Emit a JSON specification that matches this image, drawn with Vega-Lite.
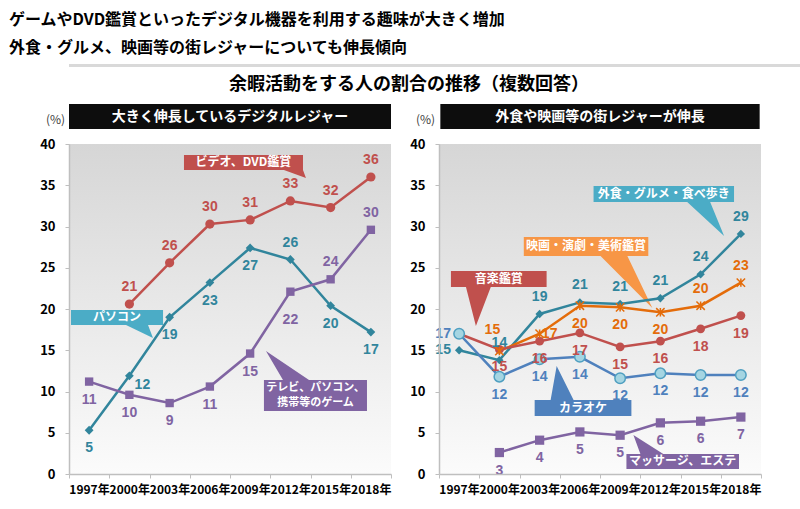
{
  "$schema": "https://vega.github.io/schema/vega-lite/v6.json",
  "background": "white",
  "padding": {"left": 0, "top": 12, "right": 0, "bottom": 5},
  "config": {
    "view": {"stroke": null},
    "font": "Noto Sans CJK JP",
    "axis": {"labelFont": "Noto Sans CJK JP", "titleFont": "Noto Sans CJK JP"}
  },
  "datasets": {
    "dL": [
      {"s": "ビデオ、DVD鑑賞", "yr": 2000, "v": 20.6, "pos": "a"},
      {"s": "ビデオ、DVD鑑賞", "yr": 2003, "v": 25.6, "pos": "a"},
      {"s": "ビデオ、DVD鑑賞", "yr": 2006, "v": 30.3, "pos": "a"},
      {"s": "ビデオ、DVD鑑賞", "yr": 2009, "v": 30.8, "pos": "a"},
      {"s": "ビデオ、DVD鑑賞", "yr": 2012, "v": 33.1, "pos": "a"},
      {"s": "ビデオ、DVD鑑賞", "yr": 2015, "v": 32.3, "pos": "a"},
      {"s": "ビデオ、DVD鑑賞", "yr": 2018, "v": 36.0, "pos": "a"},
      {"s": "パソコン", "yr": 1997, "v": 5.3, "pos": "b"},
      {"s": "パソコン", "yr": 2000, "v": 11.9, "pos": "br"},
      {"s": "パソコン", "yr": 2003, "v": 19.0, "pos": "b"},
      {"s": "パソコン", "yr": 2006, "v": 23.2, "pos": "b"},
      {"s": "パソコン", "yr": 2009, "v": 27.4, "pos": "b"},
      {"s": "パソコン", "yr": 2012, "v": 26.0, "pos": "a"},
      {"s": "パソコン", "yr": 2015, "v": 20.4, "pos": "b"},
      {"s": "パソコン", "yr": 2018, "v": 17.2, "pos": "b"},
      {"s": "テレビ、パソコン、携帯等のゲーム", "yr": 1997, "v": 11.2, "pos": "b"},
      {"s": "テレビ、パソコン、携帯等のゲーム", "yr": 2000, "v": 9.6, "pos": "b"},
      {"s": "テレビ、パソコン、携帯等のゲーム", "yr": 2003, "v": 8.6, "pos": "b"},
      {"s": "テレビ、パソコン、携帯等のゲーム", "yr": 2006, "v": 10.6, "pos": "b"},
      {"s": "テレビ、パソコン、携帯等のゲーム", "yr": 2009, "v": 14.6, "pos": "b"},
      {"s": "テレビ、パソコン、携帯等のゲーム", "yr": 2012, "v": 22.1, "pos": "b2"},
      {"s": "テレビ、パソコン、携帯等のゲーム", "yr": 2015, "v": 23.6, "pos": "a"},
      {"s": "テレビ、パソコン、携帯等のゲーム", "yr": 2018, "v": 29.6, "pos": "a"}
    ],
    "dR": [
      {"s": "外食・グルメ・食べ歩き", "yr": 1997, "v": 15.0, "pos": "l"},
      {"s": "外食・グルメ・食べ歩き", "yr": 2000, "v": 13.8, "pos": "a"},
      {"s": "外食・グルメ・食べ歩き", "yr": 2003, "v": 19.4, "pos": "a"},
      {"s": "外食・グルメ・食べ歩き", "yr": 2006, "v": 20.8, "pos": "a"},
      {"s": "外食・グルメ・食べ歩き", "yr": 2009, "v": 20.6, "pos": "a"},
      {"s": "外食・グルメ・食べ歩き", "yr": 2012, "v": 21.3, "pos": "a"},
      {"s": "外食・グルメ・食べ歩き", "yr": 2015, "v": 24.2, "pos": "a"},
      {"s": "外食・グルメ・食べ歩き", "yr": 2018, "v": 29.1, "pos": "a"},
      {"s": "映画・演劇・美術鑑賞", "yr": 2000, "v": 14.9, "pos": "al"},
      {"s": "映画・演劇・美術鑑賞", "yr": 2003, "v": 17.0, "pos": "r"},
      {"s": "映画・演劇・美術鑑賞", "yr": 2006, "v": 20.4, "pos": "b"},
      {"s": "映画・演劇・美術鑑賞", "yr": 2009, "v": 20.2, "pos": "b"},
      {"s": "映画・演劇・美術鑑賞", "yr": 2012, "v": 19.6, "pos": "b"},
      {"s": "映画・演劇・美術鑑賞", "yr": 2015, "v": 20.4, "pos": "a"},
      {"s": "映画・演劇・美術鑑賞", "yr": 2018, "v": 23.2, "pos": "a"},
      {"s": "音楽鑑賞", "yr": 1997, "v": 17.0, "pos": "n"},
      {"s": "音楽鑑賞", "yr": 2000, "v": 15.1, "pos": "b"},
      {"s": "音楽鑑賞", "yr": 2003, "v": 16.1, "pos": "b"},
      {"s": "音楽鑑賞", "yr": 2006, "v": 17.1, "pos": "b"},
      {"s": "音楽鑑賞", "yr": 2009, "v": 15.4, "pos": "b"},
      {"s": "音楽鑑賞", "yr": 2012, "v": 16.1, "pos": "b"},
      {"s": "音楽鑑賞", "yr": 2015, "v": 17.6, "pos": "b"},
      {"s": "音楽鑑賞", "yr": 2018, "v": 19.2, "pos": "b"},
      {"s": "カラオケ", "yr": 1997, "v": 17.0, "pos": "l"},
      {"s": "カラオケ", "yr": 2000, "v": 11.8, "pos": "b"},
      {"s": "カラオケ", "yr": 2003, "v": 13.9, "pos": "b"},
      {"s": "カラオケ", "yr": 2006, "v": 14.2, "pos": "b"},
      {"s": "カラオケ", "yr": 2009, "v": 11.6, "pos": "b"},
      {"s": "カラオケ", "yr": 2012, "v": 12.2, "pos": "b"},
      {"s": "カラオケ", "yr": 2015, "v": 12.0, "pos": "b"},
      {"s": "カラオケ", "yr": 2018, "v": 12.0, "pos": "b"},
      {"s": "マッサージ、エステ", "yr": 2000, "v": 2.6, "pos": "b"},
      {"s": "マッサージ、エステ", "yr": 2003, "v": 4.1, "pos": "b"},
      {"s": "マッサージ、エステ", "yr": 2006, "v": 5.1, "pos": "b"},
      {"s": "マッサージ、エステ", "yr": 2009, "v": 4.7, "pos": "b"},
      {"s": "マッサージ、エステ", "yr": 2012, "v": 6.2, "pos": "b"},
      {"s": "マッサージ、エステ", "yr": 2015, "v": 6.4, "pos": "b"},
      {"s": "マッサージ、エステ", "yr": 2018, "v": 6.9, "pos": "b"}
    ],
    "cL": [
      {"id": "V", "i": 1, "cx": 2004.07, "cy": 38.67},
      {"id": "V", "i": 2, "cx": 2012.94, "cy": 38.67},
      {"id": "V", "i": 3, "cx": 2012.94, "cy": 36.85},
      {"id": "V", "i": 4, "cx": 2013.16, "cy": 35.88},
      {"id": "V", "i": 5, "cx": 2011.52, "cy": 36.85},
      {"id": "V", "i": 6, "cx": 2004.07, "cy": 36.85},
      {"id": "P", "i": 1, "cx": 1995.65, "cy": 19.88},
      {"id": "P", "i": 2, "cx": 2002.51, "cy": 19.88},
      {"id": "P", "i": 3, "cx": 2002.51, "cy": 18.06},
      {"id": "P", "i": 4, "cx": 2001.39, "cy": 18.06},
      {"id": "P", "i": 5, "cx": 2001.76, "cy": 16.48},
      {"id": "P", "i": 6, "cx": 1999.75, "cy": 18.06},
      {"id": "P", "i": 7, "cx": 1995.65, "cy": 18.06},
      {"id": "G", "i": 1, "cx": 2010.03, "cy": 11.39},
      {"id": "G", "i": 2, "cx": 2011.45, "cy": 11.39},
      {"id": "G", "i": 3, "cx": 2010.18, "cy": 14.91},
      {"id": "G", "i": 4, "cx": 2013.39, "cy": 11.39},
      {"id": "G", "i": 5, "cx": 2017.71, "cy": 11.39},
      {"id": "G", "i": 6, "cx": 2017.71, "cy": 7.64},
      {"id": "G", "i": 7, "cx": 2010.03, "cy": 7.64}
    ],
    "cR": [
      {"id": "F", "i": 1, "cx": 2007.02, "cy": 34.91},
      {"id": "F", "i": 2, "cx": 2017.49, "cy": 34.91},
      {"id": "F", "i": 3, "cx": 2017.49, "cy": 32.97},
      {"id": "F", "i": 4, "cx": 2015.71, "cy": 32.97},
      {"id": "F", "i": 5, "cx": 2016.75, "cy": 28.85},
      {"id": "F", "i": 6, "cx": 2014.0, "cy": 32.97},
      {"id": "F", "i": 7, "cx": 2007.02, "cy": 32.97},
      {"id": "E", "i": 1, "cx": 2001.82, "cy": 28.73},
      {"id": "E", "i": 2, "cx": 2011.1, "cy": 28.73},
      {"id": "E", "i": 3, "cx": 2011.1, "cy": 26.42},
      {"id": "E", "i": 4, "cx": 2009.54, "cy": 26.42},
      {"id": "E", "i": 5, "cx": 2011.4, "cy": 20.12},
      {"id": "E", "i": 6, "cx": 2007.54, "cy": 26.42},
      {"id": "E", "i": 7, "cx": 2001.82, "cy": 26.42},
      {"id": "M", "i": 1, "cx": 1996.39, "cy": 24.61},
      {"id": "M", "i": 2, "cx": 2003.52, "cy": 24.61},
      {"id": "M", "i": 3, "cx": 2003.52, "cy": 22.67},
      {"id": "M", "i": 4, "cx": 1999.36, "cy": 22.67},
      {"id": "M", "i": 5, "cx": 1998.25, "cy": 17.94},
      {"id": "M", "i": 6, "cx": 1997.51, "cy": 22.67},
      {"id": "M", "i": 7, "cx": 1996.39, "cy": 22.67},
      {"id": "K", "i": 1, "cx": 2002.63, "cy": 8.97},
      {"id": "K", "i": 2, "cx": 2003.82, "cy": 8.97},
      {"id": "K", "i": 3, "cx": 2004.27, "cy": 13.09},
      {"id": "K", "i": 4, "cx": 2005.53, "cy": 8.97},
      {"id": "K", "i": 5, "cx": 2009.84, "cy": 8.97},
      {"id": "K", "i": 6, "cx": 2009.84, "cy": 7.03},
      {"id": "K", "i": 7, "cx": 2002.63, "cy": 7.03},
      {"id": "S", "i": 1, "cx": 2009.47, "cy": 2.42},
      {"id": "S", "i": 2, "cx": 2010.51, "cy": 2.42},
      {"id": "S", "i": 3, "cx": 2009.99, "cy": 4.73},
      {"id": "S", "i": 4, "cx": 2012.22, "cy": 2.42},
      {"id": "S", "i": 5, "cx": 2017.86, "cy": 2.42},
      {"id": "S", "i": 6, "cx": 2017.86, "cy": 0.61},
      {"id": "S", "i": 7, "cx": 2009.47, "cy": 0.61}
    ],
    "tL": [
      {"cx": 2008.5, "cy": 37.76, "txt": "ビデオ、DVD鑑賞", "fs": "m"},
      {"cx": 1999.08, "cy": 18.97, "txt": "パソコン", "fs": "m"},
      {"cx": 2013.87, "cy": 10.43, "txt": "テレビ、パソコン、\n携帯等のゲーム", "fs": "s"}
    ],
    "tR": [
      {"cx": 2012.25, "cy": 33.94, "txt": "外食・グルメ・食べ歩き", "fs": "m"},
      {"cx": 2006.46, "cy": 27.58, "txt": "映画・演劇・美術鑑賞", "fs": "m"},
      {"cx": 1999.95, "cy": 23.64, "txt": "音楽鑑賞", "fs": "m"},
      {"cx": 2006.23, "cy": 8.0, "txt": "カラオケ", "fs": "m"},
      {"cx": 2013.66, "cy": 1.52, "txt": "マッサージ、エステ", "fs": "m"}
    ]
  },
  "title": {
    "text": ["ゲームやDVD鑑賞といったデジタル機器を利用する趣味が大きく増加", "外食・グルメ、映画等の街レジャーについても伸長傾向"],
    "anchor": "start",
    "fontSize": 16,
    "fontWeight": "bold",
    "lineHeight": 28,
    "color": "#000000",
    "offset": 8,
    "dx": 8
  },
  "spacing": 8,
  "vconcat": [
    {
      "width": 800,
      "height": 3,
      "data": {"values": [{}]},
      "mark": {"type": "rect", "color": "#d9d9d9"},
      "encoding": {
        "x": {"datum": 0, "type": "quantitative", "scale": {"domain": [0, 1], "nice": false}, "axis": null},
        "x2": {"datum": 1},
        "y": {"datum": 0, "type": "quantitative", "scale": {"domain": [0, 1], "nice": false}, "axis": null},
        "y2": {"datum": 1}
      }
    },
    {
      "title": {"text": "余暇活動をする人の割合の推移（複数回答）", "anchor": "middle", "fontSize": 18, "fontWeight": "bold", "color": "#000000", "offset": 10, "dx": 18},
      "bounds": "flush",
      "spacing": 48,
      "resolve": {"scale": {"color": "independent", "shape": "independent", "size": "independent", "x": "independent", "y": "independent"}},
      "hconcat": [
        {
          "width": 322,
          "height": 330,
          "layer": [
            {"data": {"values": [{}]}, "mark": {"type": "rule", "strokeOpacity": 0},
              "encoding": {"x": {"datum": 1990.43, "type": "quantitative"}}},
            {"data": {"values": [{}]}, "mark": {"type": "rect", "color": {"gradient": "linear", "x1": 0, "y1": 0, "x2": 0, "y2": 1, "stops": [{"offset": 0, "color": "#d6d6d6"}, {"offset": 1, "color": "#fbfbfb"}]}},
              "encoding": {"x": {"datum": 1995.5, "type": "quantitative"}, "x2": {"datum": 2019.5}, "y": {"datum": 0, "type": "quantitative"}, "y2": {"datum": 40}}},
            {"data": {"values": [{}]}, "mark": {"type": "rect", "color": "#0d0d0d"},
              "encoding": {"x": {"datum": 1995.5, "type": "quantitative"}, "x2": {"datum": 2019.5}, "y": {"datum": 41.82, "type": "quantitative"}, "y2": {"datum": 44.85}}},
            {"data": {"values": [{}]}, "mark": {"type": "text", "color": "#ffffff", "fontSize": 14, "fontWeight": "bold"},
              "encoding": {"x": {"datum": 2007.5, "type": "quantitative"}, "y": {"datum": 43.33, "type": "quantitative"}, "text": {"value": "大きく伸長しているデジタルレジャー"}}},
            {"data": {"name": "cL"}, "transform": [{"filter": "datum.id == 'V'"}], "mark": {"type": "line", "interpolate": "linear-closed", "fill": "#c0504d", "strokeOpacity": 0},
              "encoding": {"x": {"field": "cx", "type": "quantitative"}, "y": {"field": "cy", "type": "quantitative"}, "order": {"field": "i"}}},
            {"data": {"name": "cL"}, "transform": [{"filter": "datum.id == 'P'"}], "mark": {"type": "line", "interpolate": "linear-closed", "fill": "#4bacc6", "strokeOpacity": 0},
              "encoding": {"x": {"field": "cx", "type": "quantitative"}, "y": {"field": "cy", "type": "quantitative"}, "order": {"field": "i"}}},
            {"data": {"name": "cL"}, "transform": [{"filter": "datum.id == 'G'"}], "mark": {"type": "line", "interpolate": "linear-closed", "fill": "#8064a2", "strokeOpacity": 0},
              "encoding": {"x": {"field": "cx", "type": "quantitative"}, "y": {"field": "cy", "type": "quantitative"}, "order": {"field": "i"}}},
            {"data": {"name": "dL"}, "mark": {"type": "line", "strokeWidth": 2.5},
              "encoding": {
                "x": {"field": "yr", "type": "quantitative", "scale": {"domain": [1995.5, 2019.5], "nice": false, "zero": false},
                  "axis": {"values": [1995.5, 1998.5, 2001.5, 2004.5, 2007.5, 2010.5, 2013.5, 2016.5, 2019.5], "labelExpr": "datum.value < 2019 ? (datum.value + 1.5) + '年' : ''", "labelOffset": 20, "title": null, "grid": false, "tickSize": 4, "tickColor": "#bfbfbf", "domainColor": "#bfbfbf", "domainWidth": 1.5, "labelFontWeight": "bold", "labelFontSize": 12, "labelColor": "#000000", "labelPadding": 6, "labelOverlap": false, "labelFlush": false, "labelBound": false, "zindex": 1}},
                "y": {"field": "v", "type": "quantitative", "scale": {"domain": [0, 40], "nice": false},
                  "axis": {"values": [0, 5, 10, 15, 20, 25, 30, 35, 40], "title": "(%)", "titleAngle": 0, "titleX": -14, "titleY": -25, "titleAlign": "center", "titleBaseline": "middle", "titleFontWeight": "normal", "titleFontSize": 12, "titleColor": "#404040", "grid": false, "tickSize": 4, "tickColor": "#bfbfbf", "domainColor": "#bfbfbf", "domainWidth": 1.5, "labelPadding": 10, "labelFontSize": 13, "labelFontWeight": "bold", "labelColor": "#000000", "zindex": 1}},
                "detail": {"field": "s"},
                "color": {"field": "s", "type": "nominal", "scale": {"domain": ["ビデオ、DVD鑑賞", "パソコン", "テレビ、パソコン、携帯等のゲーム"], "range": ["#c0504d", "#31859c", "#8064a2"]}, "legend": null}}},
            {"data": {"name": "dL"}, "mark": {"type": "point", "filled": true, "opacity": 1},
              "encoding": {"x": {"field": "yr", "type": "quantitative"}, "y": {"field": "v", "type": "quantitative"},
                "color": {"field": "s", "type": "nominal", "scale": {"domain": ["ビデオ、DVD鑑賞", "パソコン", "テレビ、パソコン、携帯等のゲーム"], "range": ["#c0504d", "#31859c", "#8064a2"]}, "legend": null},
                "shape": {"field": "s", "type": "nominal", "scale": {"domain": ["ビデオ、DVD鑑賞", "パソコン", "テレビ、パソコン、携帯等のゲーム"], "range": ["circle", "diamond", "square"]}, "legend": null},
                "size": {"field": "s", "type": "nominal", "scale": {"domain": ["ビデオ、DVD鑑賞", "パソコン", "テレビ、パソコン、携帯等のゲーム"], "range": [85, 70, 100]}, "legend": null}}},
            {"data": {"name": "dL"}, "transform": [{"filter": "datum.pos == 'a'"}], "mark": {"type": "text", "dy": -17, "font": "Liberation Sans", "fontSize": 14, "fontWeight": "bold"},
              "encoding": {"x": {"field": "yr", "type": "quantitative"}, "y": {"field": "v", "type": "quantitative"}, "text": {"field": "v", "format": ".0f"}, "color": {"field": "s", "type": "nominal", "scale": {"domain": ["ビデオ、DVD鑑賞", "パソコン", "テレビ、パソコン、携帯等のゲーム"], "range": ["#c0504d", "#31859c", "#8064a2"]}, "legend": null}}},
            {"data": {"name": "dL"}, "transform": [{"filter": "datum.pos == 'b'"}], "mark": {"type": "text", "dy": 18, "font": "Liberation Sans", "fontSize": 14, "fontWeight": "bold"},
              "encoding": {"x": {"field": "yr", "type": "quantitative"}, "y": {"field": "v", "type": "quantitative"}, "text": {"field": "v", "format": ".0f"}, "color": {"field": "s", "type": "nominal", "scale": {"domain": ["ビデオ、DVD鑑賞", "パソコン", "テレビ、パソコン、携帯等のゲーム"], "range": ["#c0504d", "#31859c", "#8064a2"]}, "legend": null}}},
            {"data": {"name": "dL"}, "transform": [{"filter": "datum.pos == 'b2'"}], "mark": {"type": "text", "dy": 28, "font": "Liberation Sans", "fontSize": 14, "fontWeight": "bold"},
              "encoding": {"x": {"field": "yr", "type": "quantitative"}, "y": {"field": "v", "type": "quantitative"}, "text": {"field": "v", "format": ".0f"}, "color": {"field": "s", "type": "nominal", "scale": {"domain": ["ビデオ、DVD鑑賞", "パソコン", "テレビ、パソコン、携帯等のゲーム"], "range": ["#c0504d", "#31859c", "#8064a2"]}, "legend": null}}},
            {"data": {"name": "dL"}, "transform": [{"filter": "datum.pos == 'br'"}], "mark": {"type": "text", "dx": 13, "dy": 9, "font": "Liberation Sans", "fontSize": 14, "fontWeight": "bold"},
              "encoding": {"x": {"field": "yr", "type": "quantitative"}, "y": {"field": "v", "type": "quantitative"}, "text": {"field": "v", "format": ".0f"}, "color": {"field": "s", "type": "nominal", "scale": {"domain": ["ビデオ、DVD鑑賞", "パソコン", "テレビ、パソコン、携帯等のゲーム"], "range": ["#c0504d", "#31859c", "#8064a2"]}, "legend": null}}},
            {"data": {"name": "tL"}, "transform": [{"filter": "datum.fs == 'm'"}], "mark": {"type": "text", "color": "#ffffff", "fontSize": 12, "fontWeight": "bold"},
              "encoding": {"x": {"field": "cx", "type": "quantitative"}, "y": {"field": "cy", "type": "quantitative"}, "text": {"field": "txt"}}},
            {"data": {"name": "tL"}, "transform": [{"filter": "datum.fs == 's'"}], "mark": {"type": "text", "color": "#ffffff", "fontSize": 11, "fontWeight": "bold", "lineBreak": "\n", "lineHeight": 15},
              "encoding": {"x": {"field": "cx", "type": "quantitative"}, "y": {"field": "cy", "type": "quantitative"}, "text": {"field": "txt"}}}
          ]
        },
        {
          "width": 322,
          "height": 330,
          "layer": [
            {"data": {"values": [{}]}, "mark": {"type": "rect", "color": {"gradient": "linear", "x1": 0, "y1": 0, "x2": 0, "y2": 1, "stops": [{"offset": 0, "color": "#d6d6d6"}, {"offset": 1, "color": "#fbfbfb"}]}},
              "encoding": {"x": {"datum": 1995.5, "type": "quantitative"}, "x2": {"datum": 2019.5}, "y": {"datum": 0, "type": "quantitative"}, "y2": {"datum": 40}}},
            {"data": {"values": [{}]}, "mark": {"type": "rect", "color": "#0d0d0d"},
              "encoding": {"x": {"datum": 1995.6, "type": "quantitative"}, "x2": {"datum": 2019.4}, "y": {"datum": 41.82, "type": "quantitative"}, "y2": {"datum": 44.85}}},
            {"data": {"values": [{}]}, "mark": {"type": "text", "color": "#ffffff", "fontSize": 14, "fontWeight": "bold"},
              "encoding": {"x": {"datum": 2007.5, "type": "quantitative"}, "y": {"datum": 43.33, "type": "quantitative"}, "text": {"value": "外食や映画等の街レジャーが伸長"}}},
            {"data": {"name": "cR"}, "transform": [{"filter": "datum.id == 'F'"}], "mark": {"type": "line", "interpolate": "linear-closed", "fill": "#4bacc6", "strokeOpacity": 0},
              "encoding": {"x": {"field": "cx", "type": "quantitative"}, "y": {"field": "cy", "type": "quantitative"}, "order": {"field": "i"}}},
            {"data": {"name": "cR"}, "transform": [{"filter": "datum.id == 'E'"}], "mark": {"type": "line", "interpolate": "linear-closed", "fill": "#f79646", "strokeOpacity": 0},
              "encoding": {"x": {"field": "cx", "type": "quantitative"}, "y": {"field": "cy", "type": "quantitative"}, "order": {"field": "i"}}},
            {"data": {"name": "cR"}, "transform": [{"filter": "datum.id == 'M'"}], "mark": {"type": "line", "interpolate": "linear-closed", "fill": "#c0504d", "strokeOpacity": 0},
              "encoding": {"x": {"field": "cx", "type": "quantitative"}, "y": {"field": "cy", "type": "quantitative"}, "order": {"field": "i"}}},
            {"data": {"name": "cR"}, "transform": [{"filter": "datum.id == 'K'"}], "mark": {"type": "line", "interpolate": "linear-closed", "fill": "#4f81bd", "strokeOpacity": 0},
              "encoding": {"x": {"field": "cx", "type": "quantitative"}, "y": {"field": "cy", "type": "quantitative"}, "order": {"field": "i"}}},
            {"data": {"name": "cR"}, "transform": [{"filter": "datum.id == 'S'"}], "mark": {"type": "line", "interpolate": "linear-closed", "fill": "#8064a2", "strokeOpacity": 0},
              "encoding": {"x": {"field": "cx", "type": "quantitative"}, "y": {"field": "cy", "type": "quantitative"}, "order": {"field": "i"}}},
            {"data": {"name": "dR"}, "mark": {"type": "line", "strokeWidth": 2.5},
              "encoding": {
                "x": {"field": "yr", "type": "quantitative", "scale": {"domain": [1995.5, 2019.5], "nice": false, "zero": false},
                  "axis": {"values": [1995.5, 1998.5, 2001.5, 2004.5, 2007.5, 2010.5, 2013.5, 2016.5, 2019.5], "labelExpr": "datum.value < 2019 ? (datum.value + 1.5) + '年' : ''", "labelOffset": 20, "title": null, "grid": false, "tickSize": 4, "tickColor": "#bfbfbf", "domainColor": "#bfbfbf", "domainWidth": 1.5, "labelFontWeight": "bold", "labelFontSize": 12, "labelColor": "#000000", "labelPadding": 6, "labelOverlap": false, "labelFlush": false, "labelBound": false, "zindex": 1}},
                "y": {"field": "v", "type": "quantitative", "scale": {"domain": [0, 40], "nice": false},
                  "axis": {"values": [0, 5, 10, 15, 20, 25, 30, 35, 40], "title": "(%)", "titleAngle": 0, "titleX": -14, "titleY": -25, "titleAlign": "center", "titleBaseline": "middle", "titleFontWeight": "normal", "titleFontSize": 12, "titleColor": "#404040", "grid": false, "tickSize": 4, "tickColor": "#bfbfbf", "domainColor": "#bfbfbf", "domainWidth": 1.5, "labelPadding": 10, "labelFontSize": 13, "labelFontWeight": "bold", "labelColor": "#000000", "zindex": 1}},
                "detail": {"field": "s"},
                "color": {"field": "s", "type": "nominal", "scale": {"domain": ["外食・グルメ・食べ歩き", "映画・演劇・美術鑑賞", "音楽鑑賞", "カラオケ", "マッサージ、エステ"], "range": ["#31859c", "#e46c0a", "#c0504d", "#4f81bd", "#8064a2"]}, "legend": null}}},
            {"data": {"name": "dR"}, "transform": [{"filter": "datum.s == '外食・グルメ・食べ歩き' || datum.s == '音楽鑑賞' || datum.s == 'マッサージ、エステ'"}],
              "mark": {"type": "point", "filled": true, "opacity": 1},
              "encoding": {"x": {"field": "yr", "type": "quantitative"}, "y": {"field": "v", "type": "quantitative"},
                "color": {"field": "s", "type": "nominal", "scale": {"domain": ["外食・グルメ・食べ歩き", "映画・演劇・美術鑑賞", "音楽鑑賞", "カラオケ", "マッサージ、エステ"], "range": ["#31859c", "#e46c0a", "#c0504d", "#4f81bd", "#8064a2"]}, "legend": null},
                "shape": {"field": "s", "type": "nominal", "scale": {"domain": ["外食・グルメ・食べ歩き", "音楽鑑賞", "マッサージ、エステ"], "range": ["diamond", "circle", "square"]}, "legend": null},
                "size": {"field": "s", "type": "nominal", "scale": {"domain": ["外食・グルメ・食べ歩き", "音楽鑑賞", "マッサージ、エステ"], "range": [70, 85, 100]}, "legend": null}}},
            {"data": {"name": "dR"}, "transform": [{"filter": "datum.s == 'カラオケ'"}],
              "mark": {"type": "point", "shape": "circle", "filled": true, "fill": "#a5d5e2", "stroke": "#4f9fc0", "strokeWidth": 1.5, "size": 110, "opacity": 1},
              "encoding": {"x": {"field": "yr", "type": "quantitative"}, "y": {"field": "v", "type": "quantitative"}}},
            {"data": {"name": "dR"}, "transform": [{"filter": "datum.s == '映画・演劇・美術鑑賞'"}],
              "mark": {"type": "point", "shape": "M-1,-1L1,1M-1,1L1,-1M0,-1L0,1", "filled": false, "stroke": "#e46c0a", "strokeWidth": 1.5, "size": 70, "opacity": 1},
              "encoding": {"x": {"field": "yr", "type": "quantitative"}, "y": {"field": "v", "type": "quantitative"}}},
            {"data": {"name": "dR"}, "transform": [{"filter": "datum.pos == 'a'"}], "mark": {"type": "text", "dy": -17, "font": "Liberation Sans", "fontSize": 14, "fontWeight": "bold"},
              "encoding": {"x": {"field": "yr", "type": "quantitative"}, "y": {"field": "v", "type": "quantitative"}, "text": {"field": "v", "format": ".0f"}, "color": {"field": "s", "type": "nominal", "scale": {"domain": ["外食・グルメ・食べ歩き", "映画・演劇・美術鑑賞", "音楽鑑賞", "カラオケ", "マッサージ、エステ"], "range": ["#31859c", "#e46c0a", "#c0504d", "#4f81bd", "#8064a2"]}, "legend": null}}},
            {"data": {"name": "dR"}, "transform": [{"filter": "datum.pos == 'al'"}], "mark": {"type": "text", "dx": -7, "dy": -21, "font": "Liberation Sans", "fontSize": 14, "fontWeight": "bold"},
              "encoding": {"x": {"field": "yr", "type": "quantitative"}, "y": {"field": "v", "type": "quantitative"}, "text": {"field": "v", "format": ".0f"}, "color": {"field": "s", "type": "nominal", "scale": {"domain": ["外食・グルメ・食べ歩き", "映画・演劇・美術鑑賞", "音楽鑑賞", "カラオケ", "マッサージ、エステ"], "range": ["#31859c", "#e46c0a", "#c0504d", "#4f81bd", "#8064a2"]}, "legend": null}}},
            {"data": {"name": "dR"}, "transform": [{"filter": "datum.pos == 'b'"}], "mark": {"type": "text", "dy": 18, "font": "Liberation Sans", "fontSize": 14, "fontWeight": "bold"},
              "encoding": {"x": {"field": "yr", "type": "quantitative"}, "y": {"field": "v", "type": "quantitative"}, "text": {"field": "v", "format": ".0f"}, "color": {"field": "s", "type": "nominal", "scale": {"domain": ["外食・グルメ・食べ歩き", "映画・演劇・美術鑑賞", "音楽鑑賞", "カラオケ", "マッサージ、エステ"], "range": ["#31859c", "#e46c0a", "#c0504d", "#4f81bd", "#8064a2"]}, "legend": null}}},
            {"data": {"name": "dR"}, "transform": [{"filter": "datum.pos == 'l'"}], "mark": {"type": "text", "dx": -16, "font": "Liberation Sans", "fontSize": 14, "fontWeight": "bold"},
              "encoding": {"x": {"field": "yr", "type": "quantitative"}, "y": {"field": "v", "type": "quantitative"}, "text": {"field": "v", "format": ".0f"}, "color": {"field": "s", "type": "nominal", "scale": {"domain": ["外食・グルメ・食べ歩き", "映画・演劇・美術鑑賞", "音楽鑑賞", "カラオケ", "マッサージ、エステ"], "range": ["#31859c", "#e46c0a", "#c0504d", "#4f81bd", "#8064a2"]}, "legend": null}}},
            {"data": {"name": "dR"}, "transform": [{"filter": "datum.pos == 'r'"}], "mark": {"type": "text", "dx": 10, "font": "Liberation Sans", "fontSize": 14, "fontWeight": "bold"},
              "encoding": {"x": {"field": "yr", "type": "quantitative"}, "y": {"field": "v", "type": "quantitative"}, "text": {"field": "v", "format": ".0f"}, "color": {"field": "s", "type": "nominal", "scale": {"domain": ["外食・グルメ・食べ歩き", "映画・演劇・美術鑑賞", "音楽鑑賞", "カラオケ", "マッサージ、エステ"], "range": ["#31859c", "#e46c0a", "#c0504d", "#4f81bd", "#8064a2"]}, "legend": null}}},
            {"data": {"name": "tR"}, "mark": {"type": "text", "color": "#ffffff", "fontSize": 12, "fontWeight": "bold"},
              "encoding": {"x": {"field": "cx", "type": "quantitative"}, "y": {"field": "cy", "type": "quantitative"}, "text": {"field": "txt"}}}
          ]
        }
      ]
    }
  ]
}
